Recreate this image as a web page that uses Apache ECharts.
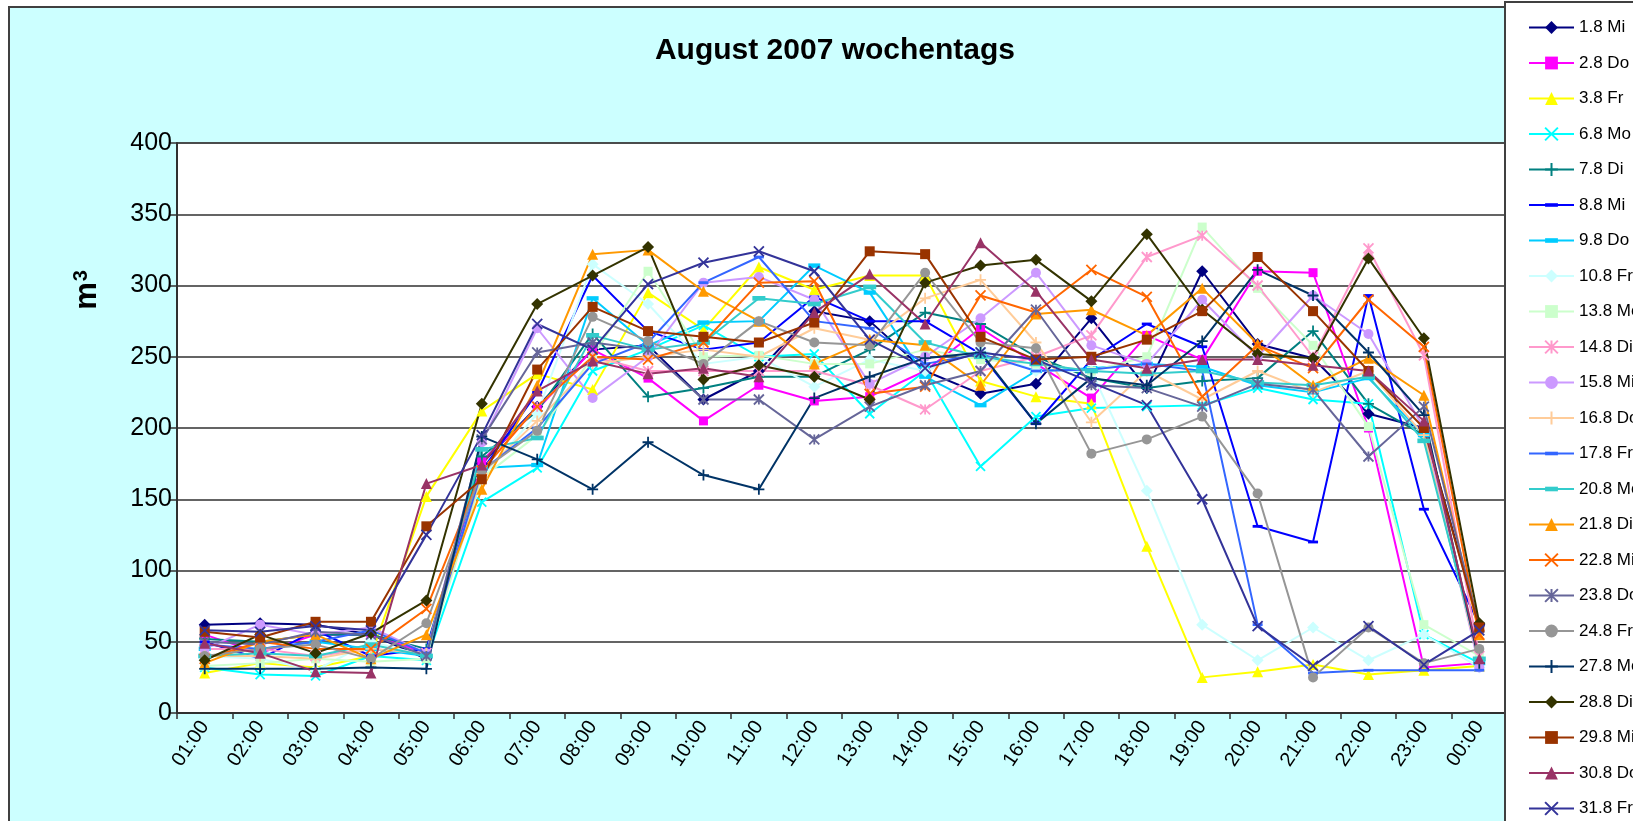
<!DOCTYPE html>
<html>
<head>
<meta charset="utf-8">
<script src="https://cdn.jsdelivr.net/npm/echarts@6/dist/echarts.min.js"></script>
<style>
html,body{margin:0;padding:0;background:#fff;}
#chart{width:1633px;height:821px;}
</style>
</head>
<body>
<div id="chart"></div>
<script>
// ---- data ----
const hours = ["01:00","02:00","03:00","04:00","05:00","06:00","07:00","08:00","09:00","10:00","11:00","12:00",
               "13:00","14:00","15:00","16:00","17:00","18:00","19:00","20:00","21:00","22:00","23:00","00:00"];
const yTicks = [0, 50, 100, 150, 200, 250, 300, 350, 400];

const v01_Mi = [62,63,62,55,38,175,215,255,258,220,240,282,275,240,224,231,277,228,310,259,249,210,200,62];
const v02_Do = [55,42,55,55,42,177,213,255,235,205,230,219,222,240,270,245,221,265,248,310,309,200,32,35];
const v03_Fr = [28,35,32,40,152,212,238,227,295,269,313,297,307,307,233,222,217,117,25,29,34,27,30,33];
const v06_Mo = [32,27,26,40,37,148,172,240,255,272,250,252,210,240,173,208,214,215,216,228,220,217,55,35];
const v07_Di = [52,50,55,55,45,180,212,266,222,228,236,236,255,281,273,250,235,228,233,235,268,217,195,37];
const v08_Mi = [50,38,58,40,45,170,225,307,268,255,260,292,275,275,252,203,248,273,257,131,120,293,143,62];
const v09_Do = [45,45,50,45,40,172,174,291,258,274,275,314,295,236,216,240,242,245,243,230,225,235,195,35];
const v10_Fr = [40,38,30,50,40,165,210,315,287,245,250,229,248,240,255,240,240,156,62,37,60,37,55,32];
const v13_Mo = [33,35,38,36,38,165,195,250,310,250,251,245,245,255,248,245,240,250,341,298,258,201,62,40];
const v14_Di = [45,45,40,45,42,170,215,250,240,240,240,240,230,213,240,250,265,320,335,300,250,326,251,40];
const v15_Mi = [45,62,55,60,42,190,270,221,250,302,306,290,231,250,277,309,258,245,290,250,293,266,200,32];
const v16_Do = [40,40,38,45,42,168,205,245,250,255,250,270,262,291,304,260,204,240,220,240,225,240,195,35];
const v17_Fr = [48,45,50,58,42,170,200,245,260,302,320,275,270,245,252,240,241,245,240,62,28,30,30,30];
const v20_Mo = [40,42,40,48,40,185,193,265,255,260,291,287,299,260,250,245,240,238,240,232,230,236,191,38];
const v21_Di = [35,50,55,38,55,157,230,322,325,296,275,245,262,258,230,280,283,265,298,259,230,249,223,55];
const v22_Mi = [38,50,45,45,73,170,215,250,248,260,302,303,224,229,293,281,311,292,222,258,242,290,257,55];
const v23_Do = [50,48,57,55,40,192,253,260,255,220,220,192,215,230,240,283,230,228,215,231,227,180,215,60];
const v24_Fr = [40,45,48,38,63,170,198,278,261,245,275,260,258,309,260,256,182,192,208,154,25,60,35,45];
const v27_Mo = [31,31,31,32,31,194,178,157,190,167,157,221,236,249,253,203,235,230,261,311,293,253,209,35];
const v28_Di = [37,55,42,56,79,217,287,307,327,234,244,236,220,302,314,318,289,336,283,252,249,319,263,63];
const v29_Mi = [57,53,64,64,131,164,241,285,268,264,260,274,324,322,264,248,250,262,282,320,282,240,200,60];
const v30_Do = [49,42,29,28,161,174,226,247,238,242,236,281,308,273,330,296,248,242,248,248,244,240,205,38];
const v31_Fr = [58,57,61,58,125,195,273,255,301,316,324,310,262,242,253,248,232,216,150,61,33,61,34,58];

const seriesNames = ["1.8 Mi","2.8 Do","3.8 Fr","6.8 Mo","7.8 Di","8.8 Mi","9.8 Do","10.8 Fr","13.8 Mo","14.8 Di",
  "15.8 Mi","16.8 Do","17.8 Fr","20.8 Mo","21.8 Di","22.8 Mi","23.8 Do","24.8 Fr","27.8 Mo","28.8 Di","29.8 Mi","30.8 Do","31.8 Fr"];
const seriesValues = [v01_Mi,v02_Do,v03_Fr,v06_Mo,v07_Di,v08_Mi,v09_Do,v10_Fr,v13_Mo,v14_Di,v15_Mi,v16_Do,v17_Fr,
  v20_Mo,v21_Di,v22_Mi,v23_Do,v24_Fr,v27_Mo,v28_Di,v29_Mi,v30_Do,v31_Fr];

// ---- styles ----
const colors = ["#000080","#FF00FF","#FFFF00","#00FFFF","#008080","#0000FF","#00CCFF","#CCFFFF","#CCFFCC","#FF99CC",
  "#CC99FF","#FFCC99","#3366FF","#33CCCC","#FF9900","#FF6600","#666699","#969696","#003366","#333300","#993300","#993366","#333399"];
const X = 'path://M0,0L10,10M10,0L0,10';
const PLUS = 'path://M5,0L5,10M0,5L10,5';
const STAR = 'path://M0,0L10,10M10,0L0,10M5,0L5,10';
const DASH = 'path://M0,0M10,10M0,3.6L10,3.6L10,6.4L0,6.4Z';
const DASH2 = 'path://M0,0M10,10M0,3.2L10,3.2L10,6.8L0,6.8Z';
const markers = [
  ['diamond',12,false],['rect',9,false],['triangle',11,false],[X,9,true],[PLUS,11,true],[DASH,10,false],[DASH2,12,false],
  ['diamond',12,false],['rect',9,false],[STAR,10,true],['circle',10,false],[PLUS,11,true],[DASH,10,false],[DASH2,13,false],
  ['triangle',11,false],[X,10,true],[STAR,10,true],['circle',10,false],[PLUS,11,true],['diamond',12,false],['rect',10,false],
  ['triangle',11,false],[X,10,true]
];

const FONT = "'Liberation Sans', Arial, sans-serif";

const series = seriesNames.map((n, i) => {
  const m = markers[i];
  return {
    name: n,
    type: 'line',
    data: seriesValues[i],
    symbol: m[0],
    symbolSize: m[1],
    showAllSymbol: true,
    animation: false,
    lineStyle: { color: colors[i], width: 2 },
    itemStyle: { color: m[2] ? 'rgba(0,0,0,0)' : colors[i], borderColor: colors[i], borderWidth: m[2] ? 1.8 : 0 },
    emphasis: { disabled: true }
  };
});

const chart = echarts.init(document.getElementById('chart'), null, { renderer: 'canvas' });
chart.setOption({
  animation: false,
  backgroundColor: '#ffffff',
  color: colors,
  graphic: [
    { type: 'rect', z: -10, shape: { x: 9, y: 7, width: 1800, height: 1000 },
      style: { fill: '#CCFFFF', stroke: '#404040', lineWidth: 2 } },
    { type: 'text', z: 10, x: 87, y: 290, rotation: Math.PI / 2,
      style: { text: '{m|m}{s|3}', fill: '#000', align: 'center', verticalAlign: 'middle',
               rich: { m: { font: "bold 31px 'Liberation Sans', Arial, sans-serif", verticalAlign: 'bottom' },
                       s: { font: "bold 20px 'Liberation Sans', Arial, sans-serif", verticalAlign: 'top', padding: [0, 0, 10, 1] } } } }
  ],
  title: {
    text: 'August 2007 wochentags',
    left: 830, top: 31, textAlign: 'center',
    textStyle: { fontFamily: FONT, fontWeight: 'bold', fontSize: 30, color: '#000' }
  },
  grid: {
    left: 177, top: 143, right: 126, bottom: 108,
    show: true, backgroundColor: '#ffffff', borderColor: '#808080', borderWidth: 1.5
  },
  legend: {
    orient: 'vertical', left: 1505, top: 2, height: 1200,
    padding: [17, 10, 10, 23],
    itemWidth: 45, itemHeight: 16, itemGap: 18.5,
    backgroundColor: '#ffffff', borderColor: '#404040', borderWidth: 2,
    textStyle: { fontFamily: FONT, fontSize: 17, color: '#000', lineHeight: 16 },
    data: seriesNames
  },
  xAxis: {
    type: 'category', data: hours, boundaryGap: true,
    axisLine: { lineStyle: { color: '#303030', width: 2 } },
    axisTick: { show: true, length: 6, lineStyle: { color: '#303030', width: 1.5 } },
    axisLabel: { rotate: 56, fontFamily: FONT, fontSize: 20, color: '#000', margin: 10, interval: 0 },
    splitLine: { show: false }
  },
  yAxis: {
    type: 'value', min: yTicks[0], max: yTicks[yTicks.length - 1], interval: 50,
    axisLine: { show: true, lineStyle: { color: '#303030', width: 2 } },
    axisTick: { show: true, length: 7, lineStyle: { color: '#303030', width: 1.5 } },
    axisLabel: { fontFamily: FONT, fontSize: 25, color: '#000', margin: 5 },
    splitLine: { lineStyle: { color: '#303030', width: 1.5 } }
  },
  series: series
});
</script>
</body>
</html>
